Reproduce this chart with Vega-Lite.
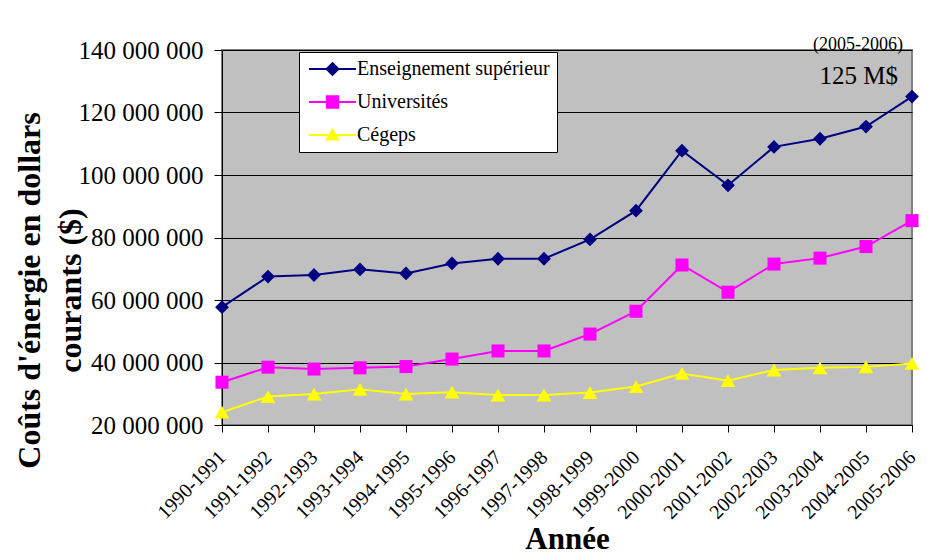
{
  "$schema": "https://vega.github.io/schema/vega-lite/v6.json",
  "width": 690,
  "height": 375,
  "autosize": {"type": "none"},
  "padding": {"left": 222, "top": 50, "right": 23, "bottom": 135},
  "background": "white",
  "config": {
    "locale": {"number": {"decimal": ",", "thousands": " ", "grouping": [3], "currency": ["", " $"]}},
    "font": "Liberation Serif",
    "view": {"fill": "#C0C0C0", "stroke": "#808080", "strokeWidth": 2},
    "legend": {
      "title": null,
      "orient": "none",
      "legendX": 77,
      "legendY": 2,
      "fillColor": "white",
      "strokeColor": "black",
      "padding": 7,
      "symbolSize": 196,
      "symbolOpacity": 1,
      "symbolStrokeWidth": 0,
      "labelOffset": 31,
      "rowPadding": 13,
      "labelFont": "Liberation Serif",
      "labelFontSize": 20,
      "labelColor": "black",
      "labelLimit": 400
    }
  },
  "datasets": {
    "couts": [
      {"annee": "1990-1991", "serie": "Enseignement supérieur", "cout": 57700000},
      {"annee": "1991-1992", "serie": "Enseignement supérieur", "cout": 67500000},
      {"annee": "1992-1993", "serie": "Enseignement supérieur", "cout": 68000000},
      {"annee": "1993-1994", "serie": "Enseignement supérieur", "cout": 69800000},
      {"annee": "1994-1995", "serie": "Enseignement supérieur", "cout": 68500000},
      {"annee": "1995-1996", "serie": "Enseignement supérieur", "cout": 71700000},
      {"annee": "1996-1997", "serie": "Enseignement supérieur", "cout": 73200000},
      {"annee": "1997-1998", "serie": "Enseignement supérieur", "cout": 73200000},
      {"annee": "1998-1999", "serie": "Enseignement supérieur", "cout": 79400000},
      {"annee": "1999-2000", "serie": "Enseignement supérieur", "cout": 88600000},
      {"annee": "2000-2001", "serie": "Enseignement supérieur", "cout": 107800000},
      {"annee": "2001-2002", "serie": "Enseignement supérieur", "cout": 96700000},
      {"annee": "2002-2003", "serie": "Enseignement supérieur", "cout": 109000000},
      {"annee": "2003-2004", "serie": "Enseignement supérieur", "cout": 111600000},
      {"annee": "2004-2005", "serie": "Enseignement supérieur", "cout": 115500000},
      {"annee": "2005-2006", "serie": "Enseignement supérieur", "cout": 125100000},
      {"annee": "1990-1991", "serie": "Universités", "cout": 33700000},
      {"annee": "1991-1992", "serie": "Universités", "cout": 38500000},
      {"annee": "1992-1993", "serie": "Universités", "cout": 37900000},
      {"annee": "1993-1994", "serie": "Universités", "cout": 38300000},
      {"annee": "1994-1995", "serie": "Universités", "cout": 38700000},
      {"annee": "1995-1996", "serie": "Universités", "cout": 41100000},
      {"annee": "1996-1997", "serie": "Universités", "cout": 43700000},
      {"annee": "1997-1998", "serie": "Universités", "cout": 43700000},
      {"annee": "1998-1999", "serie": "Universités", "cout": 49100000},
      {"annee": "1999-2000", "serie": "Universités", "cout": 56400000},
      {"annee": "2000-2001", "serie": "Universités", "cout": 71200000},
      {"annee": "2001-2002", "serie": "Universités", "cout": 62500000},
      {"annee": "2002-2003", "serie": "Universités", "cout": 71500000},
      {"annee": "2003-2004", "serie": "Universités", "cout": 73400000},
      {"annee": "2004-2005", "serie": "Universités", "cout": 77100000},
      {"annee": "2005-2006", "serie": "Universités", "cout": 85400000},
      {"annee": "1990-1991", "serie": "Cégeps", "cout": 24100000},
      {"annee": "1991-1992", "serie": "Cégeps", "cout": 29100000},
      {"annee": "1992-1993", "serie": "Cégeps", "cout": 29900000},
      {"annee": "1993-1994", "serie": "Cégeps", "cout": 31400000},
      {"annee": "1994-1995", "serie": "Cégeps", "cout": 29900000},
      {"annee": "1995-1996", "serie": "Cégeps", "cout": 30500000},
      {"annee": "1996-1997", "serie": "Cégeps", "cout": 29600000},
      {"annee": "1997-1998", "serie": "Cégeps", "cout": 29600000},
      {"annee": "1998-1999", "serie": "Cégeps", "cout": 30400000},
      {"annee": "1999-2000", "serie": "Cégeps", "cout": 32300000},
      {"annee": "2000-2001", "serie": "Cégeps", "cout": 36500000},
      {"annee": "2001-2002", "serie": "Cégeps", "cout": 34200000},
      {"annee": "2002-2003", "serie": "Cégeps", "cout": 37600000},
      {"annee": "2003-2004", "serie": "Cégeps", "cout": 38300000},
      {"annee": "2004-2005", "serie": "Cégeps", "cout": 38600000},
      {"annee": "2005-2006", "serie": "Cégeps", "cout": 39700000}
    ],
    "notes": [
      {"annee": "2005-2006", "cout": 141600000, "texte": "(2005-2006)", "taille": "petit"},
      {"annee": "2005-2006", "cout": 131700000, "texte": "125 M$", "taille": "grand"}
    ]
  },
  "encoding": {
    "x": {
      "field": "annee",
      "type": "ordinal",
      "sort": null,
      "scale": {"type": "point", "padding": 0},
      "axis": {
        "title": "Année",
        "titleFont": "Liberation Serif",
        "titleFontSize": 31,
        "titleFontWeight": "bold",
        "titleColor": "black",
        "titleBaseline": "alphabetic",
        "titleY": 123,
        "labelAngle": -45,
        "labelAlign": "right",
        "labelBaseline": "middle",
        "labelFont": "Liberation Serif",
        "labelFontSize": 20,
        "labelColor": "black",
        "labelPadding": 22,
        "labelOverlap": false,
        "tickSize": 7,
        "tickColor": "black",
        "domainColor": "black",
        "grid": false
      }
    },
    "y": {
      "field": "cout",
      "type": "quantitative",
      "scale": {"domain": [20000000, 140000000], "nice": false, "zero": false},
      "axis": {
        "title": ["Coûts d'énergie en dollars", "courants ($)"],
        "titleFont": "Liberation Serif",
        "titleFontSize": 32,
        "titleFontWeight": "bold",
        "titleColor": "black",
        "titleLineHeight": 41,
        "titleBaseline": "middle",
        "titleAngle": -90,
        "titleX": -193,
        "titleY": 240,
        "values": [20000000, 40000000, 60000000, 80000000, 100000000, 120000000, 140000000],
        "format": ",d",
        "labelFont": "Liberation Serif",
        "labelFontSize": 25,
        "labelColor": "black",
        "labelPadding": 11,
        "tickSize": 8,
        "tickColor": "black",
        "domainColor": "black",
        "grid": true,
        "gridColor": "black",
        "gridWidth": 1
      }
    }
  },
  "layer": [
    {
      "data": {"name": "couts"},
      "mark": {"type": "line", "strokeWidth": 2},
      "encoding": {
        "color": {
          "field": "serie",
          "type": "nominal",
          "scale": {"domain": ["Enseignement supérieur", "Universités", "Cégeps"], "range": ["#000080", "#FF00FF", "#FFFF00"]}
        }
      }
    },
    {
      "data": {"name": "couts"},
      "mark": {"type": "point", "filled": true, "opacity": 0},
      "encoding": {
        "color": {"field": "serie", "type": "nominal"},
        "shape": {
          "field": "serie",
          "type": "nominal",
          "scale": {
            "domain": ["Enseignement supérieur", "Universités", "Cégeps"],
            "range": [
              "M-1,-0.14H5.71V0.14H-1Z M2.36,-1.05L3.41,0L2.36,1.05L1.31,0Z",
              "M-1,-0.14H5.71V0.14H-1Z M1.4,-0.96H3.32V0.96H1.4Z",
              "M-1,-0.14H5.71V0.14H-1Z M2.36,-1L3.41,0.8L1.31,0.8Z"
            ]
          }
        }
      }
    },
    {
      "data": {"name": "couts"},
      "transform": [{"filter": "datum.serie === 'Enseignement supérieur'"}],
      "mark": {"type": "point", "filled": true, "opacity": 1, "size": 190, "shape": "diamond"},
      "encoding": {"color": {"field": "serie", "type": "nominal"}}
    },
    {
      "data": {"name": "couts"},
      "transform": [{"filter": "datum.serie === 'Universités'"}],
      "mark": {"type": "point", "filled": true, "opacity": 1, "size": 170, "shape": "square"},
      "encoding": {"color": {"field": "serie", "type": "nominal"}}
    },
    {
      "data": {"name": "couts"},
      "transform": [{"filter": "datum.serie === 'Cégeps'"}],
      "mark": {"type": "point", "filled": true, "opacity": 1, "size": 220, "shape": "triangle-up"},
      "encoding": {"color": {"field": "serie", "type": "nominal"}}
    },
    {
      "data": {"name": "notes"},
      "transform": [{"filter": "datum.taille === 'petit'"}],
      "mark": {"type": "text", "align": "right", "baseline": "middle", "dx": -9, "fontSize": 18, "font": "Liberation Serif", "color": "black", "clip": false},
      "encoding": {"text": {"field": "texte"}}
    },
    {
      "data": {"name": "notes"},
      "transform": [{"filter": "datum.taille === 'grand'"}],
      "mark": {"type": "text", "align": "right", "baseline": "middle", "dx": -14, "fontSize": 25, "font": "Liberation Serif", "color": "black"},
      "encoding": {"text": {"field": "texte"}}
    }
  ]
}
